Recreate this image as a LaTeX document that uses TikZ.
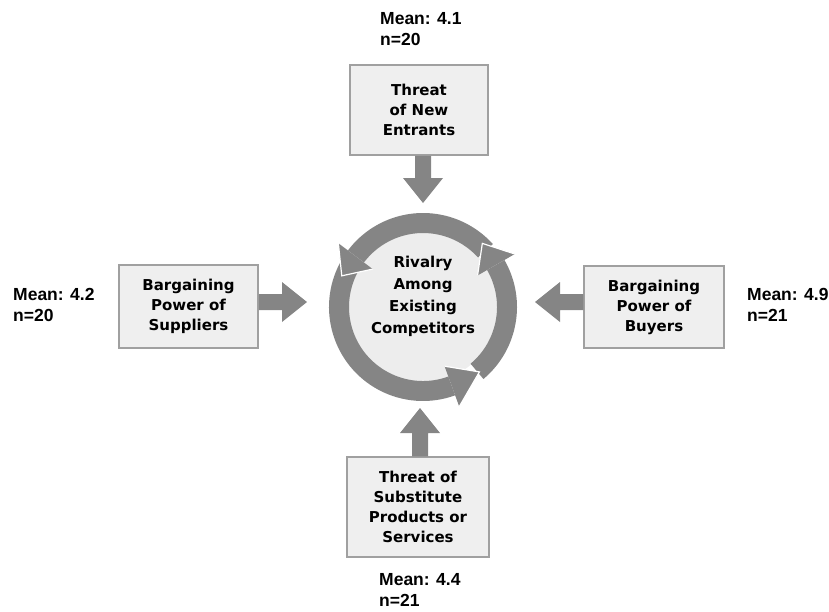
\documentclass[tikz,border=0pt]{standalone}
\usepackage{fontspec}
\setmainfont{Liberation Sans}
\newfontfamily\dvfont{DejaVu Sans}
\usetikzlibrary{calc}
\definecolor{arrgray}{RGB}{133,133,133}
\definecolor{boxfill}{RGB}{239,239,239}
\definecolor{boxline}{RGB}{160,160,160}
\definecolor{circfill}{RGB}{237,237,237}
\tikzset{
  force/.style={draw=boxline, fill=boxfill, line width=1.5pt, inner sep=0pt, align=center,
    font=\dvfont\bfseries\fontsize{15}{20}\selectfont},
  meanlbl/.style={anchor=north west, inner sep=0pt, align=left,
    font=\bfseries\fontsize{17.5}{21}\selectfont},
  arr/.style={fill=arrgray},
  headedge/.style={draw=white, line width=1.2pt}
}
\newcommand\fatarrow[3]{%
  \coordinate (#3) at ($(#2)!25pt!(#1)$);
  \fill[arr] ($(#1)!8pt!90:(#2)$) -- ($(#3)!8pt!90:(#2)$) -- ($(#3)!20pt!90:(#2)$) -- (#2)
    -- ($(#3)!20pt!-90:(#2)$) -- ($(#3)!8pt!-90:(#2)$) -- ($(#1)!8pt!-90:(#2)$) -- cycle;
}
\begin{document}
\begin{tikzpicture}[x=1pt,y=-1pt]
\useasboundingbox (0,0) rectangle (829,611);

% boxes
\node[force, minimum width=138pt, minimum height=90pt] (tb) at (419,110) {Threat\\of New\\Entrants};
\node[force, minimum width=139pt, minimum height=83pt] (lb) at (188.5,306.5) {Bargaining\\Power of\\Suppliers};
\node[force, minimum width=140pt, minimum height=82pt] (rb) at (654,307) {Bargaining\\Power of\\Buyers};
\node[force, minimum width=142pt, minimum height=100pt] (bb) at (418,507) {Threat of\\Substitute\\Products or\\Services};

% central circle
\node[circle, fill=circfill, minimum size=150pt, inner sep=0pt] (riv) at (423,307) {};
\node[align=center, inner sep=0pt, font=\dvfont\bfseries\fontsize{15}{22}\selectfont] (rivtxt) at (423,296)
  {Rivalry\\Among\\Existing\\Competitors};

% ring arrows
\begin{scope}[shift={(riv.center)}, yscale=-1]
  \fill[arr] (-50:94) arc[start angle=-50, end angle=30, radius=94] -- (30:74) arc[start angle=30, end angle=-50, radius=74] -- cycle;
  \fill[arr] (42:94) arc[start angle=42, end angle=143, radius=94] -- (143:74) arc[start angle=143, end angle=42, radius=74] -- cycle;
  \fill[arr] (152:94) arc[start angle=152, end angle=290, radius=94] -- (290:74) arc[start angle=290, end angle=152, radius=74] -- cycle;
  \fill[arr] (30:106) -- (47:87) -- (30:63) -- cycle;
  \draw[headedge] (30:106) -- (47:87) -- (30:63);
  \fill[arr] (143:106) -- (159:87) -- (143:63) -- cycle;
  \draw[headedge] (143:106) -- (159:87) -- (143:63);
  \fill[arr] (290:106) -- (311:86) -- (290:63) -- cycle;
  \draw[headedge] (290:106) -- (311:86) -- (290:63);
\end{scope}

% straight arrows
\coordinate (tipT) at (423,203);
\coordinate (tipL) at (307,302);
\coordinate (tipR) at (535,302);
\coordinate (tipB) at (420,408);
\fatarrow{tipT|-tb.south}{tipT}{hT}
\fatarrow{lb.east|-tipL}{tipL}{hL}
\fatarrow{rb.west|-tipR}{tipR}{hR}
\fatarrow{tipB|-bb.north}{tipB}{hB}

% labels
\node[meanlbl] (mT) at (380,12) {Mean: 4.1\\n=20};
\node[meanlbl] (mL) at (13,288) {Mean: 4.2\\n=20};
\node[meanlbl] (mR) at (747,288) {Mean: 4.9\\n=21};
\node[meanlbl] (mB) at (379,573) {Mean: 4.4\\n=21};
\end{tikzpicture}
\end{document}
